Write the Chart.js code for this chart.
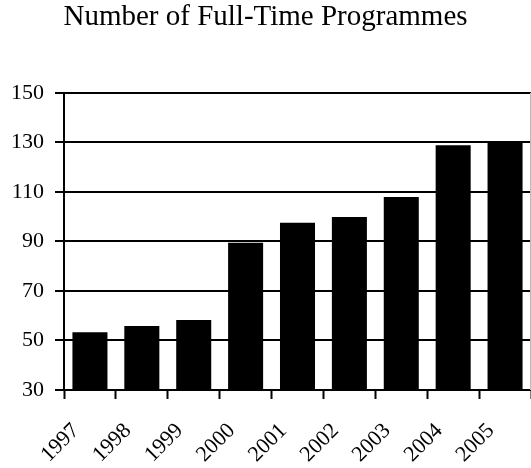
<!DOCTYPE html>
<html>
<head>
<meta charset="utf-8">
<script src="https://cdn.jsdelivr.net/npm/chart.js@4"></script>
<style>
html,body{margin:0;padding:0;background:#fff;}
#wrap{width:531px;height:468px;position:relative;}
</style>
</head>
<body>
<div id="wrap"><canvas id="c" width="531" height="468"></canvas></div>
<script>
const title = "Number of Full-Time Programmes";
const years = ["1997","1998","1999","2000","2001","2002","2003","2004","2005"];
const programmes = [53.3, 55.8, 58.3, 89.5, 97.5, 99.9, 107.9, 128.8, 130.3];
const yMin = 30, yMax = 150, yStep = 20;

const rightFrame = {
  id: 'rightFrame',
  afterDraw(chart) {
    const {ctx, chartArea} = chart;
    ctx.save();
    ctx.strokeStyle = '#bbbbbb';
    ctx.lineWidth = 1;
    ctx.beginPath();
    ctx.moveTo(chartArea.right - 0.5, chartArea.top);
    ctx.lineTo(chartArea.right - 0.5, chartArea.bottom);
    ctx.stroke();
    ctx.restore();
  }
};

new Chart(document.getElementById('c'), {
  type: 'bar',
  data: {
    labels: years,
    datasets: [{
      data: programmes,
      backgroundColor: '#000000',
      borderWidth: 0,
      categoryPercentage: 1.0,
      barPercentage: 0.675
    }]
  },
  options: {
    responsive: false,
    animation: false,
    devicePixelRatio: 1,
    layout: { padding: { left: 0, right: 0, top: 0, bottom: 0 } },
    plugins: {
      legend: { display: false },
      tooltip: { enabled: false },
      title: {
        display: true,
        text: title,
        color: '#000',
        font: { family: 'Liberation Serif', size: 29, weight: 'normal' },
        padding: { top: 0, bottom: 58 }
      }
    },
    scales: {
      x: {
        grid: {
          display: true,
          drawOnChartArea: false,
          drawTicks: true,
          tickLength: 9,
          tickWidth: 2,
          tickColor: '#000',
          offset: true
        },
        border: { display: true, color: '#000', width: 2 },
        ticks: {
          color: '#000',
          font: { family: 'Liberation Serif', size: 22 },
          maxRotation: 45,
          minRotation: 45,
          autoSkip: false,
          padding: 19,
          labelOffset: -14
        },
        afterFit(s) { s.height = 78; s.paddingRight = 0; s.paddingLeft = 0; }
      },
      y: {
        min: yMin,
        max: yMax,
        ticks: {
          stepSize: yStep,
          color: '#000',
          font: { family: 'Liberation Serif', size: 22 },
          padding: 11
        },
        grid: {
          color: '#000',
          lineWidth: 2,
          tickLength: 9,
          tickWidth: 2,
          tickColor: '#000'
        },
        border: { display: true, color: '#000', width: 2 },
        afterFit(s) { s.width = 64; }
      }
    }
  },
  plugins: [rightFrame]
});
</script>
</body>
</html>
